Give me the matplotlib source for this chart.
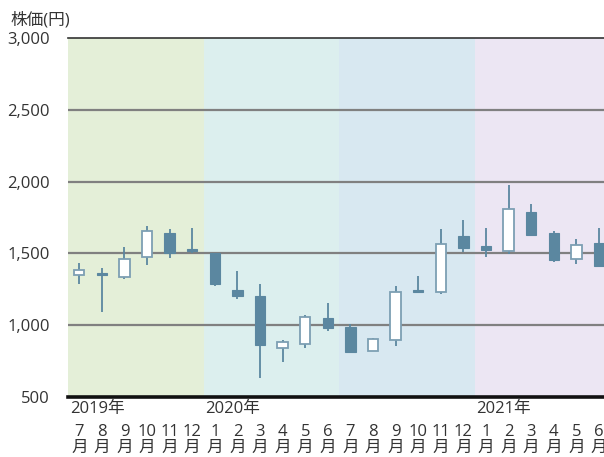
import matplotlib
matplotlib.use("Agg")
import matplotlib.pyplot as plt
from matplotlib.patches import Rectangle
import matplotlib.transforms as mtransforms

plt.rcParams['font.family'] = ['Open Sans', 'Noto Sans CJK JP', 'DejaVu Sans']

months = ["7", "8", "9", "10", "11", "12", "1", "2", "3", "4", "5", "6",
          "7", "8", "9", "10", "11", "12", "1", "2", "3", "4", "5", "6"]
years = ["2019年", "2020年", "2021年"]
year_start_idx = [0, 6, 18]

opens  = [1350, 1362, 1333, 1473, 1640, 1528, 1500, 1245, 1203, 840, 869, 1052,
          985, 822, 895, 1247, 1231, 1621, 1554, 1517, 1790, 1644, 1463, 1574]
closes = [1384, 1350, 1463, 1656, 1505, 1518, 1290, 1205, 862, 885, 1055, 983,
          815, 906, 1231, 1228, 1563, 1538, 1526, 1807, 1628, 1452, 1556, 1412]
highs  = [1435, 1396, 1547, 1693, 1670, 1675, 1505, 1378, 1285, 897, 1069, 1157,
          1006, 913, 1273, 1343, 1668, 1733, 1679, 1976, 1846, 1658, 1598, 1679]
lows   = [1287, 1094, 1320, 1419, 1468, 1501, 1275, 1185, 634, 742, 843, 957,
          813, 822, 857, 1226, 1219, 1512, 1473, 1494, 1626, 1440, 1426, 1403]

yticks = [500, 1000, 1500, 2000, 2500, 3000]
band_colors = ["#e4efd8", "#dcefee", "#d8e8f1", "#ece6f3"]

FS = 12
TXT = "#333333"

fig = plt.figure(figsize=(6.04, 4.57), dpi=100)
ax = fig.add_axes([68/604, 1-397/457, 1-68/604, (397-38)/457])

ax.set_xlim(0, 23.72)
ax.set_ylim(500, 3000)

for k, c in enumerate(band_colors):
    ax.axvspan(k*6, k*6+6, color=c, lw=0, zorder=0)

for v in [1000, 1500, 2000, 2500]:
    ax.axhline(v, color="#808080", lw=1.6, zorder=1)
ax.axhline(3000, color="#333333", lw=1.2, zorder=1, clip_on=False)

dark = "#5b87a0"
edge_light = "#7d9fb3"
w = 0.46
for i, (o, c, h, l) in enumerate(zip(opens, closes, highs, lows)):
    x = i + 0.5
    ax.plot([x, x], [l, h], color=dark, lw=1.3, zorder=2, solid_capstyle='butt')
    lo, hi = min(o, c), max(o, c)
    if c >= o:
        r = Rectangle((x - w/2, lo), w, hi - lo, facecolor="white",
                      edgecolor=edge_light, lw=1.3, zorder=3)
    else:
        r = Rectangle((x - w/2, lo), w, max(hi - lo, 10), facecolor=dark,
                      edgecolor=dark, lw=0.8, zorder=3)
    ax.add_patch(r)

for s in ["top", "right", "left"]:
    ax.spines[s].set_visible(False)
ax.spines["bottom"].set_color("#111111")
ax.spines["bottom"].set_linewidth(2.6)
ax.spines["bottom"].set_zorder(5)

ax.set_yticks(yticks)
ax.set_yticklabels([f"{v:,}" for v in yticks], fontsize=FS, color=TXT)
ax.tick_params(axis='y', length=0, pad=13)

ax.set_xticks([])

trans = mtransforms.blended_transform_factory(ax.transData, fig.transFigure)
for i, m in enumerate(months):
    ax.text(i + 0.5, 1 - 432/457, m, transform=trans, ha='center', va='center',
            fontsize=FS, color=TXT, clip_on=False)
    ax.text(i + 0.5, 1 - 448/457, "月", transform=trans, ha='center', va='center',
            fontsize=FS, color=TXT, clip_on=False)

for yl, idx in zip(years, year_start_idx):
    ax.text(idx + 0.08, 1 - 409/457, yl, transform=trans, ha='left', va='center',
            fontsize=FS, color=TXT)

fig.text(10/604, 1 - 20/457, "株価(円)", ha='left', va='center', fontsize=FS,
         color=TXT)

fig.savefig("out.png", dpi=100)
